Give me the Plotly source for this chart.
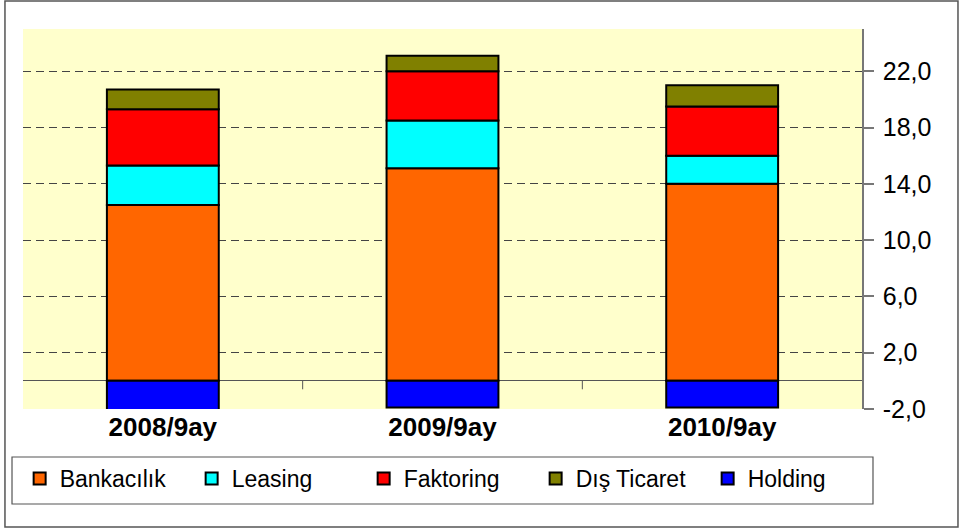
import plotly.graph_objects as go

periods = ["2008/9ay", "2009/9ay", "2010/9ay"]
bankacilik = [12.5, 15.1, 14.0]
leasing = [2.8, 3.4, 2.0]
faktoring = [4.0, 3.5, 3.5]
dis_ticaret = [1.4, 1.1, 1.5]
holding = [-2.3, -1.9, -1.9]
y_ticks = [-2, 2, 6, 10, 14, 18, 22]
y_tick_labels = ["-2,0", "2,0", "6,0", "10,0", "14,0", "18,0", "22,0"]

series = [
    ("Bankacılık", bankacilik, "#FF6600"),
    ("Leasing", leasing, "#00FFFF"),
    ("Faktoring", faktoring, "#FF0000"),
    ("Dış Ticaret", dis_ticaret, "#808000"),
    ("Holding", holding, "#0000FF"),
]

FONT = "Liberation Sans, Arial, sans-serif"

fig = go.Figure()
for name, vals, col in series:
    fig.add_trace(go.Bar(x=periods, y=vals, name=name, width=0.4,
                         marker=dict(color=col, line=dict(color="#000000", width=2))))

# zero line ticks between categories
for xb in [0.5, 1.5]:
    fig.add_shape(type="line", xref="x", yref="y", x0=xb, x1=xb, y0=0, y1=-0.6,
                  line=dict(color="#555555", width=1))

# outer chart frame and legend frame
fig.add_shape(type="rect", xref="paper", yref="paper", x0=-0.0215, x1=1.1144, y0=-0.3105, y1=1.0737,
              line=dict(color="#555555", width=1.5), layer="below")
fig.add_shape(type="rect", xref="paper", yref="paper", x0=-0.0131, x1=1.0131, y0=-0.25, y1=-0.1263,
              line=dict(color="#555555", width=1.2), layer="below")

fig.update_layout(
    width=960, height=529, barmode="relative",
    paper_bgcolor="#FFFFFF", plot_bgcolor="#FFFFCC",
    margin=dict(l=23, r=98, t=29, b=120, autoexpand=False),
    font=dict(family=FONT, color="#000000"),
    xaxis=dict(type="category", showgrid=False, zeroline=False, showline=False, ticks="",
               automargin=False,
               tickfont=dict(size=26, family=FONT, weight="bold")),
    yaxis=dict(side="right", range=[-2, 25], tickvals=y_ticks, ticktext=y_tick_labels,
               automargin=False,
               showgrid=True, gridcolor="#444444", griddash="8px,5px", gridwidth=1,
               zeroline=True, zerolinecolor="#555555", zerolinewidth=1,
               showline=True, linecolor="#777777", linewidth=1.5,
               ticks="outside", ticklen=10, tickcolor="#777777", tickwidth=1.5,
               tickfont=dict(size=25), ticklabelstandoff=4),
    legend=dict(orientation="h", x=-0.004, y=-0.1263, xanchor="left", yanchor="top",
                bgcolor="rgba(0,0,0,0)", borderwidth=0, font=dict(size=23),
                entrywidth=127, traceorder="normal"),
    showlegend=True,
)

fig.write_html("out.html", config={"displayModeBar": False},
               post_script="document.body.style.margin='0';")
